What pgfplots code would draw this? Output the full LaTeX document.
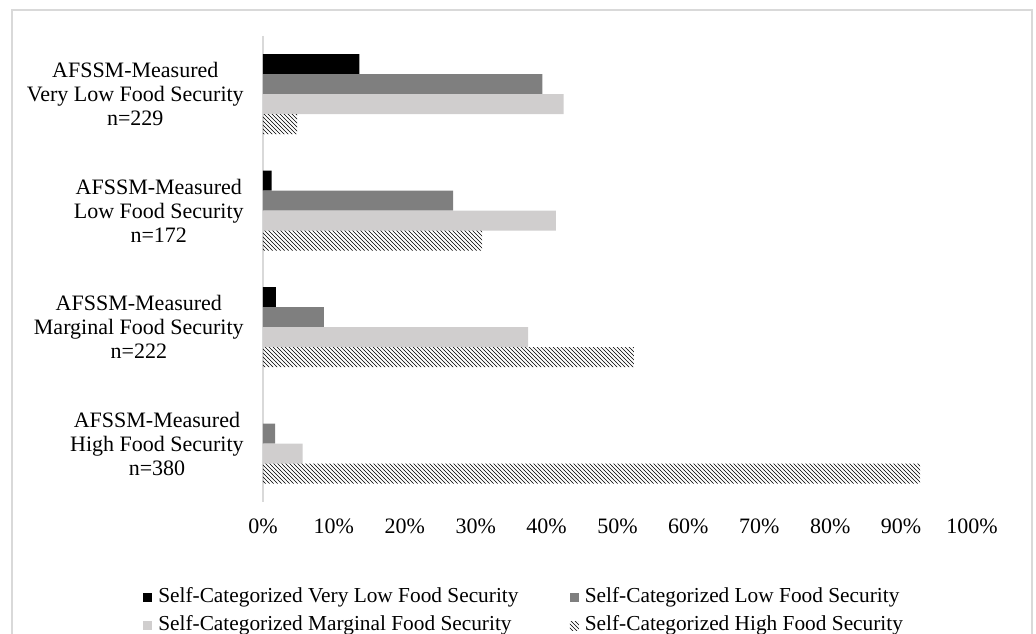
\documentclass[border=0pt]{standalone}
\usepackage{fontspec}
\setmainfont{Liberation Serif}
\usepackage{pgfplots}
\pgfplotsset{compat=1.18}
\usetikzlibrary{patterns}
\definecolor{dgray}{HTML}{7F7F7F}
\definecolor{lgray}{HTML}{D0CECE}
\definecolor{axgray}{HTML}{D9D9D9}
\begin{document}
\begin{tikzpicture}
\path[use as bounding box] (0,0) rectangle (777pt,475.5pt);
\draw[axgray, line width=1.5pt] (9pt,-5pt) -- (9pt,468pt) -- (774pt,468pt) -- (774pt,-5pt);
\begin{axis}[
  at={(197.25pt,99pt)}, anchor=south west,
  scale only axis, width=531.75pt, height=349.5pt,
  xmin=0, xmax=100, ymin=-0.5, ymax=3.5, y dir=reverse,
  xbar, bar width=15pt,
  axis x line*=bottom, axis y line*=left,
  x axis line style={draw=none},
  y axis line style={axgray, line width=1pt, -},
  major tick length=0pt,
  xtick={0,10,...,100},
  xticklabel={\pgfmathprintnumber{\tick}\%},
  /pgf/number format/assume math mode=true,
  xticklabel style={font=\fontsize{16.5}{18}\selectfont, inner sep=0pt, anchor=north, yshift=-12.75pt},
  ytick={0,1,2,3},
  yticklabels={{AFSSM-Measured\\Very Low Food Security\\n=229},
               {AFSSM-Measured\\Low Food Security\\n=172},
               {AFSSM-Measured\\Marginal Food Security\\n=222},
               {AFSSM-Measured\\High Food Security\\n=380}},
  yticklabel style={font=\fontsize{16.5}{18}\selectfont, align=center, inner sep=0pt, anchor=east, xshift=-14.25pt},
  legend columns=2,
  legend cell align=left,
  legend style={at={(-0.1692,-0.1845)}, anchor=north west, draw=none, fill=none,
    inner sep=0pt, font=\fontsize{16}{18}\selectfont,
    nodes={inner sep=0pt, text height=11pt, text depth=3pt},
    row sep=7pt,
    /tikz/every odd column/.append style={column sep=4.5pt},
    /tikz/every even column/.append style={column sep=38.5pt}},
  legend image code/.code={\path[#1] (0pt,-3.375pt) rectangle (6.75pt,3.375pt);},
]
\addplot[fill=black, draw=none, bar shift=22.5pt] coordinates {(13.6,0) (1.2,1) (1.8,2)};
\addplot[fill=dgray, draw=none, bar shift=7.5pt] coordinates {(39.4,0) (26.8,1) (8.6,2) (1.7,3)};
\addplot[fill=lgray, draw=none, bar shift=-7.5pt] coordinates {(42.4,0) (41.3,1) (37.4,2) (5.6,3)};
\addplot[pattern=north west lines, pattern color=black, draw=none, bar shift=-22.5pt] coordinates {(4.8,0) (30.9,1) (52.3,2) (92.7,3)};
\legend{Self-Categorized Very Low Food Security, Self-Categorized Low Food Security,
        Self-Categorized Marginal Food Security, Self-Categorized High Food Security}
\end{axis}
\end{tikzpicture}
\end{document}
